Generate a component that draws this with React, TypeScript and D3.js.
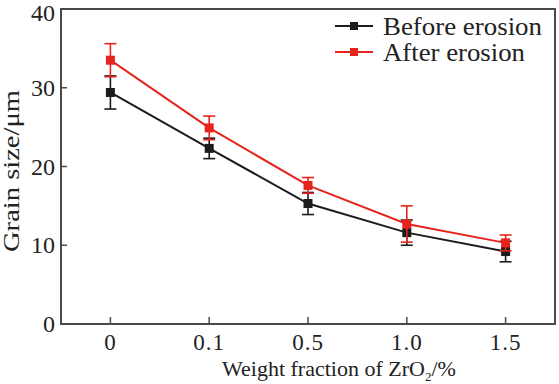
import React from "react";
import * as d3 from "d3";

const categories = ["0", "0.1", "0.5", "1.0", "1.5"];
const beforeValues = [29.4, 22.3, 15.3, 11.6, 9.2];
const beforeErrors = [2.1, 1.3, 1.4, 1.6, 1.3];
const afterValues = [33.5, 24.9, 17.6, 12.7, 10.3];
const afterErrors = [2.1, 1.5, 1.0, 2.3, 1.0];
const yTicks = [0, 10, 20, 30, 40];
const seriesNames = ["Before erosion", "After erosion"];

const W = 559;
const H = 384;
const left = 61;
const right = 555;
const top = 9;
const bottom = 324;

const BLACK = "#1c1c1c";
const RED = "#e5241d";
const AXIS = "#4a4a4a";
const FONT = "'Liberation Serif', 'Times New Roman', serif";

export default function App() {
  const x = d3.scalePoint<string>().domain(categories).range([left, right]).padding(0.5);
  const y = d3.scaleLinear().domain([0, 40]).range([bottom, top]);
  const line = d3
    .line<number>()
    .x((_, i) => x(categories[i]) as number)
    .y((d) => y(d));

  const series = [
    { name: seriesNames[0], values: beforeValues, errors: beforeErrors, color: BLACK },
    { name: seriesNames[1], values: afterValues, errors: afterErrors, color: RED },
  ];

  return (
    <svg width={W} height={H} style={{ position: "absolute", left: 0, top: 0, background: "#fff" }}>
      <rect x={0} y={0} width={W} height={H} fill="#fff" />
      {/* frame */}
      <rect x={left} y={top} width={right - left} height={bottom - top} fill="none" stroke={AXIS} strokeWidth={2} />
      {/* y ticks */}
      {yTicks.map((t) => (
        <g key={"y" + t}>
          <line x1={left} x2={left + 6} y1={y(t)} y2={y(t)} stroke={AXIS} strokeWidth={1.5} />
          <text
            x={55}
            y={Math.max(y(t) + 8, 21)}
            textAnchor="end"
            fontFamily={FONT}
            fontSize={24}
            fill="#222"
          >
            {t}
          </text>
        </g>
      ))}
      {/* x ticks */}
      {categories.map((c) => (
        <g key={"x" + c}>
          <line x1={x(c)} x2={x(c)} y1={bottom} y2={bottom - 7} stroke={AXIS} strokeWidth={1.5} />
          <text
            x={x(c)}
            y={350}
            textAnchor="middle"
            fontFamily={FONT}
            fontSize={23}
            letterSpacing={1}
            fill="#222"
          >
            {c}
          </text>
        </g>
      ))}
      {/* axis titles */}
      <text x={222} y={376} fontFamily={FONT} fontSize={22} fill="#222">
        <tspan>Weight fraction of ZrO</tspan>
        <tspan fontSize={13} dy={5}>2</tspan>
        <tspan dy={-5}>/%</tspan>
      </text>
      <text
        transform={`translate(19, 171) rotate(-90)`}
        textAnchor="middle"
        fontFamily={FONT}
        fontSize={23}
        fill="#222"
        textLength={162}
        lengthAdjust="spacingAndGlyphs"
      >
        Grain size/μm
      </text>
      {/* series */}
      {series.map((s) => (
        <g key={s.name}>
          {s.values.map((v, i) => {
            const cx = x(categories[i]) as number;
            const e = s.errors[i];
            return (
              <g key={i}>
                <line x1={cx} x2={cx} y1={y(v - e)} y2={y(v + e)} stroke={s.color} strokeWidth={1.6} />
                <line x1={cx - 6} x2={cx + 6} y1={y(v + e)} y2={y(v + e)} stroke={s.color} strokeWidth={1.6} />
                <line x1={cx - 6} x2={cx + 6} y1={y(v - e)} y2={y(v - e)} stroke={s.color} strokeWidth={1.6} />
              </g>
            );
          })}
          <path d={line(s.values) || ""} fill="none" stroke={s.color} strokeWidth={2} />
          {s.values.map((v, i) => (
            <rect
              key={"m" + i}
              x={(x(categories[i]) as number) - 4.5}
              y={y(v) - 4.5}
              width={9}
              height={9}
              fill={s.color}
            />
          ))}
        </g>
      ))}
      {/* legend */}
      {series.map((s, i) => {
        const ly = 26 + i * 26;
        return (
          <g key={"leg" + i}>
            <line x1={335} x2={373} y1={ly} y2={ly} stroke={s.color} strokeWidth={2} />
            <rect x={350} y={ly - 4} width={8} height={8} fill={s.color} />
            <text
              x={383}
              y={ly + 9}
              fontFamily={FONT}
              fontSize={25}
              fill="#222"
              textLength={i === 0 ? 159 : 142}
              lengthAdjust="spacingAndGlyphs"
            >
              {s.name}
            </text>
          </g>
        );
      })}
    </svg>
  );
}
